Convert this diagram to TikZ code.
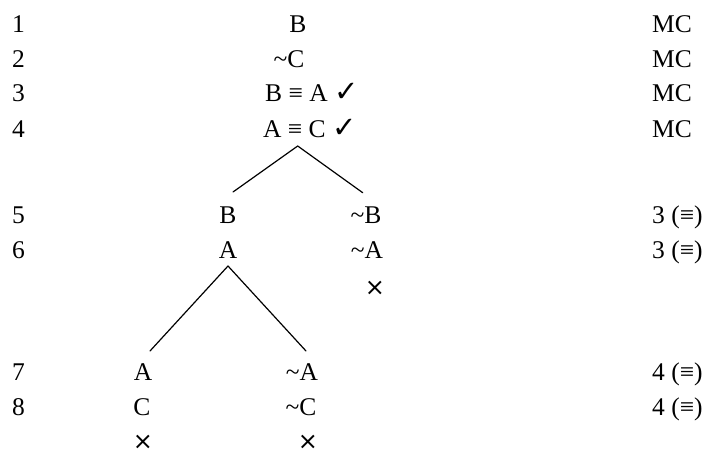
\documentclass[tikz,border=0pt]{standalone}
\usepackage{fontspec}
\setmainfont{Liberation Serif}
\newfontfamily\dvfont{DejaVu Sans}
\newcommand{\tld}{\textasciitilde}
\newcommand{\chk}{{\dvfont\fontsize{29}{32}\selectfont ✓}}
\tikzset{
  txt/.style={inner sep=0pt, anchor=base, font=\fontsize{25.5}{30}\selectfont},
  txtl/.style={txt, anchor=base west},
  closed/.style={inner sep=0pt, anchor=center, font=\dvfont\fontsize{24}{28}\selectfont},
  branch/.style={line width=1.2pt, line cap=round}
}
\begin{document}
\begin{tikzpicture}[x=1pt,y=-1pt]
\useasboundingbox (0,0) rectangle (710,452);
% line numbers
\node[txtl] (n1) at (12,32.5) {1};
\node[txtl] (n2) at (12,67) {2};
\node[txtl] (n3) at (12,102) {3};
\node[txtl] (n4) at (12,137) {4};
\node[txtl] (n5) at (12,223.5) {5};
\node[txtl] (n6) at (12,258.5) {6};
\node[txtl] (n7) at (12,380) {7};
\node[txtl] (n8) at (12,415) {8};
% justifications
\node[txtl] (j1) at (652,32.5) {MC};
\node[txtl] (j2) at (652,67) {MC};
\node[txtl] (j3) at (652,102) {MC};
\node[txtl] (j4) at (652,137) {MC};
\node[txtl] (j5) at (652,223.5) {3 (≡)};
\node[txtl] (j6) at (652,258.5) {3 (≡)};
\node[txtl] (j7) at (652,380) {4 (≡)};
\node[txtl] (j8) at (652,415) {4 (≡)};
% trunk
\node[txt] (f1) at (298,32.5) {B};
\node[txt] (f2) at (289,67) {\tld C};
\node[txtl] (f3) at (265,102) {B ≡ A \chk};
\node[txtl] (f4) at (263,137) {A ≡ C \chk};
% first branching
\coordinate (a1) at (297.7,146);
\coordinate (l1) at (233,192);
\coordinate (r1) at (362.7,192.7);
\draw[branch] (a1) -- (l1);
\draw[branch] (a1) -- (r1);
\node[txt] (b5) at (228,223.5) {B};
\node[txt] (b6) at (228,258.5) {A};
\node[txt] (c5) at (366,223.5) {\tld B};
\node[txt] (c6) at (367,258.5) {\tld A};
\node[closed] (x1) at (375,288) {×};
% second branching
\coordinate (a2) at (228,266);
\coordinate (l2) at (150,351);
\coordinate (r2) at (306,351);
\draw[branch] (a2) -- (l2);
\draw[branch] (a2) -- (r2);
\node[txt] (d7) at (143,380) {A};
\node[txt] (d8) at (142,415) {C};
\node[txt] (e7) at (302,380) {\tld A};
\node[txt] (e8) at (301,415) {\tld C};
\node[closed] (x2) at (143,442) {×};
\node[closed] (x3) at (308,442) {×};
\end{tikzpicture}
\end{document}
